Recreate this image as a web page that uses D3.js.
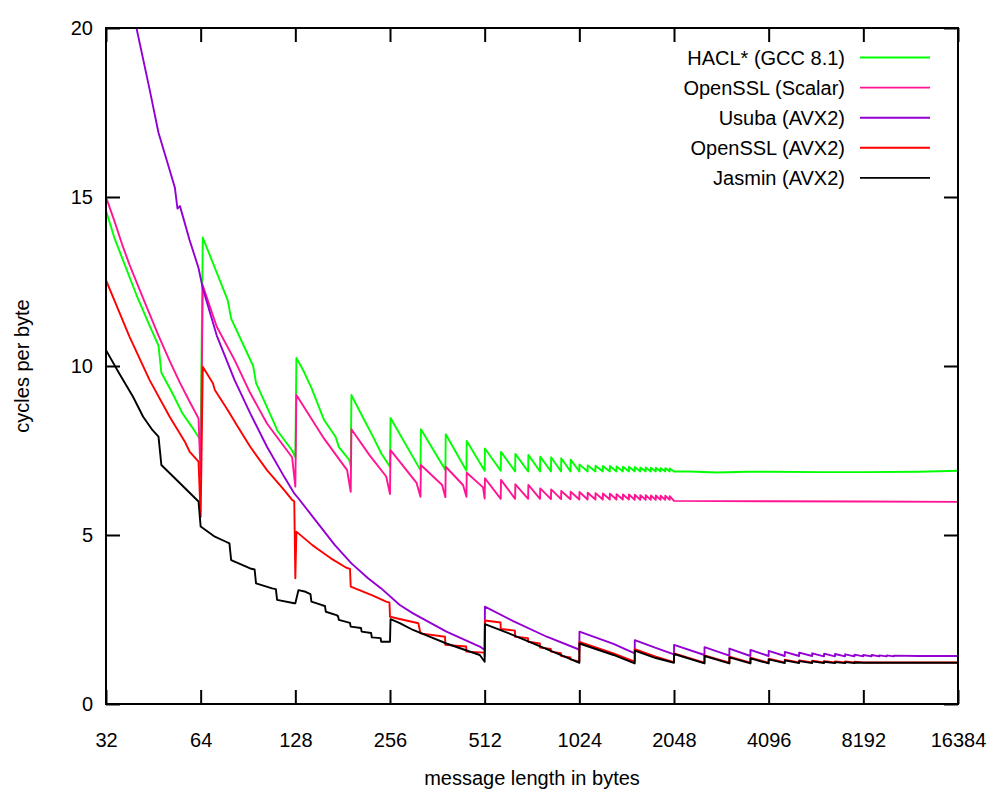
<!DOCTYPE html>
<html>
<head>
<meta charset="utf-8">
<script src="https://cdn.jsdelivr.net/npm/d3@7"></script>
<style>
  body { margin: 0; background: #fff; }
  text { font-family: "Liberation Sans", Arial, sans-serif; font-size: 20px; fill: #000; }
  .axis .domain { display: none; }
  .axis line { stroke: #000; stroke-width: 2; }
  .line { fill: none; stroke-width: 1.9; stroke-linejoin: round; }
</style>
</head>
<body>
<div id="chart"></div>
<script>
// message lengths (bytes) and cycles per byte

// HACL* (GCC 8.1)
var haclBytes = [32,34,36,40,44,47,48,52,56,60,63,64,
  65,78,80,94,96,111,112,125,128,
  129,136,144,158,172,176,190,192,
  193,208,226,240,256,
  257,320,321,384,385,448,449,512,513,576,577,640,641,704,705,768,769,832,833,896,897,960,961,1024,
  1025,1088,1089,1152,1153,1216,1217,1280,1281,1344,1345,1408,1409,1472,1473,1536,
  1537,1600,1601,1664,1665,1728,1729,1792,1793,1856,1857,1920,1921,1984,1985,2048,
  2304,2800,3500,4096,6000,8192,12288,16384];
var haclCpb = [14.6,13.8,13.2,12.1,11.2,10.6,9.8,9.2,8.6,8.2,7.9,7.8,
  13.8,11.95,11.4,10.0,9.5,8.2,8.1,7.5,7.3,
  10.24,9.85,9.35,8.4,7.9,7.6,7.22,7.04,
  9.14,8.55,7.91,7.42,7.02,
  8.46,6.92,8.13,6.92,7.98,6.9,7.78,6.9,7.56,6.9,7.46,6.88,7.4,6.88,7.37,6.88,7.32,6.88,7.3,6.88,7.27,6.88,7.23,6.88,
  7.09,6.88,7.06,6.88,7.05,6.88,7.04,6.88,7.04,6.88,7.03,6.88,7.02,6.88,7.02,6.88,
  7.01,6.88,7.0,6.88,7.0,6.88,6.99,6.88,6.99,6.88,6.98,6.88,6.98,6.88,6.97,6.88,
  6.88,6.85,6.87,6.87,6.86,6.86,6.87,6.9];

// OpenSSL (Scalar)
var scalarBytes = [32,34,36,38,42,47,51,55,59,63,64,
  65,72,82,92,104,118,125,128,
  129,158,187,192,193,220,249,256,257,311,320,321,375,384,385,437,448,449,506,512,
  513,576,577,640,641,704,705,768,769,832,833,896,897,960,961,1024,
  1025,1088,1089,1152,1153,1216,1217,1280,1281,1344,1345,1408,1409,1472,1473,1536,
  1537,1600,1601,1664,1665,1728,1729,1792,1793,1856,1857,1920,1921,1984,1985,2048,
  4096,8192,16384];
var scalarCpb = [15.0,14.3,13.6,13.0,12.0,10.9,10.15,9.5,8.95,8.45,6.73,
  12.38,11.16,10.18,9.2,8.3,7.61,7.3,6.43,
  9.14,7.85,6.92,6.28,8.13,7.37,6.73,6.21,7.51,6.54,6.13,7.07,6.48,6.12,7.02,6.48,6.13,6.84,6.41,6.08,
  6.68,6.07,6.63,6.07,6.5,6.07,6.48,6.07,6.38,6.06,6.35,6.06,6.3,6.06,6.28,6.05,
  6.27,6.05,6.25,6.05,6.24,6.05,6.23,6.05,6.22,6.05,6.21,6.05,6.2,6.05,6.2,6.04,
  6.19,6.04,6.18,6.04,6.18,6.04,6.17,6.04,6.17,6.04,6.16,6.04,6.16,6.04,6.15,6.01,
  6.0,5.99,5.98];

// Usuba (AVX2)
var usubaBytes = [40,44,47,51,53,54,55,59,63,65,72,82,92,104,118,127,131,148,171,193,218,240,275,303,387,494,512,
  513,631,807,1017,1024,1025,1315,1536,1537,1792,2048,2049,2560,2561,3072,3073,3584,3585,4096,4097,
  4608,4609,5120,5121,5632,5633,6144,6145,6656,6657,7168,7169,7680,7681,8192,8193,
  8704,8705,9216,9217,9728,9729,10240,10241,12288,16384];
var usubaCpb = [20.0,18.2,16.9,15.8,15.27,14.66,14.73,13.73,12.9,12.3,10.9,9.59,8.6,7.61,6.72,6.23,6.08,5.45,4.7,4.16,3.72,3.42,2.93,2.68,2.14,1.7,1.6,
  2.88,2.45,1.99,1.62,1.57,2.14,1.78,1.5,1.89,1.66,1.47,1.75,1.45,1.68,1.43,1.64,1.42,1.6,1.42,1.57,
  1.42,1.54,1.42,1.52,1.42,1.5,1.41,1.49,1.41,1.48,1.41,1.47,1.41,1.46,1.41,1.45,
  1.41,1.45,1.41,1.44,1.41,1.44,1.41,1.43,1.42,1.42];

// OpenSSL (AVX2)
var avx2Bytes = [32,34,38,44,51,57,59,63,64,
  65,70,71,78,84,92,104,118,125,127,128,
  129,145,150,166,186,191,192,224,249,255,256,315,320,383,384,447,448,511,512,
  513,575,576,639,640,703,704,767,768,831,832,895,896,959,960,1024,
  1025,1315,1536,1537,1792,2048,2049,2560,2561,3072,3073,3584,3585,4096,4097,
  4608,4609,5120,5121,5632,5633,6144,6145,6656,6657,7168,7169,7680,7681,8192,16384];
var avx2Cpb = [12.54,11.95,10.87,9.59,8.5,7.76,7.47,7.17,5.54,
  9.98,9.49,9.29,8.7,8.2,7.61,6.92,6.33,6.04,6.0,3.72,
  5.1,4.7,4.6,4.31,4.03,4.0,3.47,3.22,3.03,3.0,2.58,2.39,2.09,1.99,1.75,1.7,1.55,1.52,1.4,
  2.47,2.41,2.22,2.17,1.99,1.95,1.84,1.79,1.67,1.63,1.55,1.5,1.42,1.38,1.32,1.25,
  1.84,1.5,1.25,1.62,1.4,1.24,1.5,1.22,1.44,1.22,1.4,1.22,1.37,1.22,1.34,
  1.23,1.31,1.23,1.29,1.23,1.28,1.23,1.27,1.23,1.26,1.23,1.26,1.23,1.25,1.23,1.23];

// Jasmin (AVX2)
var jasminBytes = [32,35,39,42,45,47,48,55,63,64,71,77,79,80,92,95,96,108,111,112,127,128,
  131,138,143,144,155,159,160,173,175,176,191,192,207,208,223,224,239,240,256,
  257,275,303,342,387,437,494,512,
  513,631,807,977,1024,1025,1315,1536,1537,1792,2048,2049,2560,2561,3072,3073,3584,3585,4096,4097,
  4608,4609,5120,5121,5632,5633,6144,6145,6656,6657,7168,7169,7680,7681,8192,16384];
var jasminCpb = [10.47,9.83,9.09,8.5,8.1,7.91,7.07,6.53,5.99,5.25,4.95,4.8,4.75,4.26,4.01,3.98,3.57,3.42,3.4,3.08,2.98,2.98,
  3.37,3.32,3.25,3.03,2.93,2.9,2.73,2.63,2.6,2.49,2.4,2.29,2.25,2.14,2.1,1.97,1.95,1.84,1.84,
  2.51,2.39,2.19,1.99,1.79,1.62,1.45,1.25,
  2.36,2.04,1.62,1.3,1.22,1.79,1.45,1.2,1.58,1.36,1.22,1.48,1.2,1.42,1.2,1.38,1.2,1.35,1.2,1.32,
  1.21,1.29,1.21,1.27,1.21,1.26,1.21,1.25,1.21,1.24,1.21,1.24,1.21,1.23,1.22,1.22];

var seriesNames = ["HACL* (GCC 8.1)", "OpenSSL (Scalar)", "Usuba (AVX2)", "OpenSSL (AVX2)", "Jasmin (AVX2)"];
var seriesColors = ["#00ff00", "#ff1493", "#9400d3", "#ff0000", "#000000"];
var seriesBytes = [haclBytes, scalarBytes, usubaBytes, avx2Bytes, jasminBytes];
var seriesCpb = [haclCpb, scalarCpb, usubaCpb, avx2Cpb, jasminCpb];

var xTicks = [32, 64, 128, 256, 512, 1024, 2048, 4096, 8192, 16384];
var yTicks = [0, 5, 10, 15, 20];

var svg = d3.select("#chart")
    .append("svg")
    .attr("width", 1000)
    .attr("height", 800);

var margin = {top: 28, right: 42, bottom: 96, left: 106},
    width = +svg.attr("width") - margin.left - margin.right,
    height = +svg.attr("height") - margin.top - margin.bottom;

var x = d3.scaleLog().base(2).domain([32, 16384]).range([0, width]),
    y = d3.scaleLinear().domain([0, 20]).range([height, 0]);

var g = svg.append("g")
    .attr("transform", "translate(" + margin.left + "," + margin.top + ")");

g.append("clipPath")
    .attr("id", "plot-clip")
  .append("rect")
    .attr("width", width)
    .attr("height", height);

// axes with inward ticks, mirrored on top and right
g.append("g")
    .attr("class", "axis")
    .attr("transform", "translate(0," + height + ")")
    .call(d3.axisBottom(x).tickValues(xTicks).tickFormat(d3.format("d"))
      .tickSizeInner(-14).tickSizeOuter(0).tickPadding(29));

g.append("g")
    .attr("class", "axis")
    .call(d3.axisTop(x).tickValues(xTicks).tickFormat("")
      .tickSizeInner(-14).tickSizeOuter(0));

g.append("g")
    .attr("class", "axis")
    .call(d3.axisLeft(y).tickValues(yTicks)
      .tickSizeInner(-14).tickSizeOuter(0).tickPadding(13));

g.append("g")
    .attr("class", "axis")
    .attr("transform", "translate(" + width + ",0)")
    .call(d3.axisRight(y).tickValues(yTicks).tickFormat("")
      .tickSizeInner(-14).tickSizeOuter(0));

g.selectAll(".axis text")
    .attr("font-family", null)
    .attr("font-size", null);

var line = d3.line()
    .x(function(d) { return x(d[0]); })
    .y(function(d) { return y(d[1]); });

g.append("g")
    .attr("clip-path", "url(#plot-clip)")
  .selectAll(".line")
    .data(seriesNames)
  .enter().append("path")
    .attr("class", "line")
    .attr("stroke", function(d, i) { return seriesColors[i]; })
    .attr("d", function(d, i) { return line(d3.zip(seriesBytes[i], seriesCpb[i])); });

g.append("rect")
    .attr("width", width)
    .attr("height", height)
    .attr("fill", "none")
    .attr("stroke", "#000")
    .attr("stroke-width", 2);

// legend
var legend = g.selectAll(".legend")
    .data(seriesNames)
  .enter().append("g")
    .attr("class", "legend")
    .attr("transform", function(d, i) { return "translate(0," + (29.5 + i * 30.1) + ")"; });

legend.append("text")
    .attr("x", 739)
    .attr("dy", "0.36em")
    .attr("text-anchor", "end")
    .text(function(d) { return d; });

legend.append("line")
    .attr("x1", 754)
    .attr("x2", 824)
    .attr("stroke", function(d, i) { return seriesColors[i]; })
    .attr("stroke-width", 1.9);

// axis titles
svg.append("text")
    .attr("x", margin.left + width / 2)
    .attr("y", 785)
    .attr("text-anchor", "middle")
    .text("message length in bytes");

svg.append("text")
    .attr("transform", "translate(29," + (margin.top + height / 2) + ") rotate(-90)")
    .attr("text-anchor", "middle")
    .text("cycles per byte");
</script>
</body>
</html>
